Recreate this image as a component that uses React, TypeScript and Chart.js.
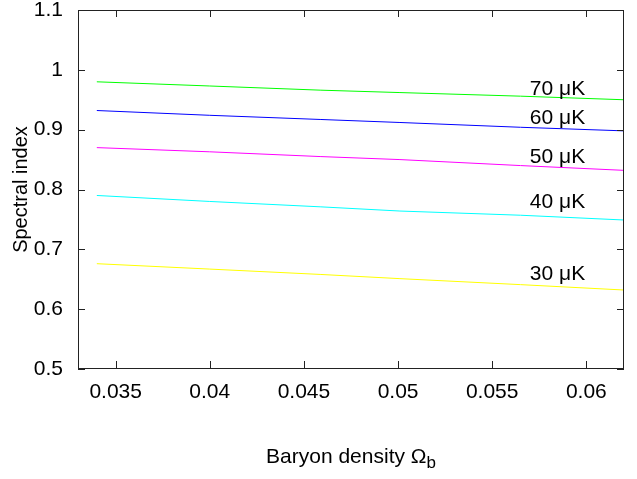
import React, { useEffect, useRef } from 'react';
import { Chart, registerables } from 'chart.js';

Chart.register(...registerables);

// Baryon density values (x) sampled along each curve
const omegaB = [0.034, 0.040, 0.0459, 0.0501, 0.0565, 0.062];
// Spectral index for each temperature amplitude
const n70 = [0.980, 0.973, 0.966, 0.962, 0.956, 0.950];
const n60 = [0.932, 0.924, 0.917, 0.912, 0.904, 0.898];
const n50 = [0.870, 0.863, 0.855, 0.850, 0.840, 0.832];
const n40 = [0.790, 0.780, 0.771, 0.764, 0.757, 0.749];
const n30 = [0.676, 0.667, 0.658, 0.651, 0.641, 0.632];

const seriesNames = ['70 μK', '60 μK', '50 μK', '40 μK', '30 μK'];
const seriesValues = [n70, n60, n50, n40, n30];
const seriesColors = ['#00ff00', '#0000ff', '#ff00ff', '#00ffff', '#ffff00'];

// in-plot label anchor positions (data coordinates)
const labelX = 0.057;
const labelY = [0.97, 0.92, 0.855, 0.78, 0.66];

const xTicks = [0.035, 0.04, 0.045, 0.05, 0.055, 0.06];
const xTickLabels = ['0.035', '0.04', '0.045', '0.05', '0.055', '0.06'];
const yTicks = [0.5, 0.6, 0.7, 0.8, 0.9, 1.0, 1.1];
const yTickLabels = ['0.5', '0.6', '0.7', '0.8', '0.9', '1', '1.1'];

const xTitle = 'Baryon density Ω';
const xTitleSub = 'b';
const yTitle = 'Spectral index';

const FONT = '"Liberation Sans", Arial, Helvetica, sans-serif';
const FS = 21;

const framePlugin = {
  id: 'gnuframe',
  afterDraw(chart: any) {
    const ctx: CanvasRenderingContext2D = chart.ctx;
    const { left, right, top, bottom } = chart.chartArea;
    const xs = chart.scales.x;
    const ys = chart.scales.y;
    ctx.save();
    ctx.fillStyle = '#222222';
    const L = Math.round(left);
    const R = Math.round(right) - 1;
    const T = Math.round(top);
    const B = Math.round(bottom) - 1;
    ctx.fillRect(L, T, R - L + 1, 1);
    ctx.fillRect(L, B, R - L + 1, 1);
    ctx.fillRect(L, T, 1, B - T + 1);
    ctx.fillRect(R, T, 1, B - T + 1);
    const tl = 7;
    xTicks.forEach((v) => {
      const px = Math.round(xs.getPixelForValue(v));
      ctx.fillRect(px, B - tl, 1, tl);
      ctx.fillRect(px, T, 1, tl);
    });
    yTicks.forEach((v) => {
      const py = Math.round(ys.getPixelForValue(v));
      ctx.fillRect(L, py, tl, 1);
      ctx.fillRect(R - tl + 1, py, tl, 1);
    });

    // curve labels
    ctx.fillStyle = '#000';
    ctx.font = `${FS}px ${FONT}`;
    ctx.textAlign = 'left';
    ctx.textBaseline = 'middle';
    seriesNames.forEach((name, i) => {
      ctx.fillText(name, xs.getPixelForValue(labelX), ys.getPixelForValue(labelY[i]) + 1);
    });

    // x-axis title with subscript
    ctx.textBaseline = 'alphabetic';
    ctx.font = `${FS}px ${FONT}`;
    const w1 = ctx.measureText(xTitle).width;
    ctx.font = `17px ${FONT}`;
    const w2 = ctx.measureText(xTitleSub).width;
    const cx = (left + right) / 2;
    const sx = cx - (w1 + w2) / 2;
    const base = bottom + 94;
    ctx.font = `${FS}px ${FONT}`;
    ctx.fillText(xTitle, sx, base);
    ctx.font = `17px ${FONT}`;
    ctx.fillText(xTitleSub, sx + w1, base + 5);
    ctx.restore();
  },
};

export default function App() {
  const ref = useRef<HTMLCanvasElement | null>(null);

  useEffect(() => {
    if (!ref.current) return;
    const chart = new Chart(ref.current, {
      type: 'line',
      data: {
        datasets: seriesNames.map((name, i) => ({
          label: name,
          data: omegaB.map((x, j) => ({ x, y: seriesValues[i][j] })),
          borderColor: seriesColors[i],
          backgroundColor: seriesColors[i],
          borderWidth: 1,
          pointRadius: 0,
          tension: 0,
          fill: false,
        })),
      },
      options: {
        animation: false,
        responsive: true,
        maintainAspectRatio: false,
        layout: { padding: { top: 10, right: 13, bottom: 0, left: 0 } },
        plugins: {
          legend: { display: false },
          tooltip: { enabled: false },
        },
        scales: {
          x: {
            type: 'linear',
            min: 0.033,
            max: 0.062,
            grid: { display: false, drawTicks: false },
            border: { display: false },
            afterBuildTicks: (s: any) => {
              s.ticks = xTicks.map((v) => ({ value: v }));
            },
            afterFit: (s: any) => {
              s.height = 110;
            },
            ticks: {
              color: '#000',
              padding: 13,
              maxRotation: 0,
              autoSkip: false,
              font: { family: FONT, size: FS, lineHeight: 1 },
              callback: (_v: any, i: number) => xTickLabels[i],
            },
          },
          y: {
            type: 'linear',
            min: 0.5,
            max: 1.1,
            grid: { display: false, drawTicks: false },
            border: { display: false },
            afterBuildTicks: (s: any) => {
              s.ticks = yTicks.map((v) => ({ value: v }));
            },
            afterFit: (s: any) => {
              s.width = 78;
              s.paddingTop = 0;
              s.paddingBottom = 0;
            },
            title: {
              display: true,
              text: yTitle,
              color: '#000',
              font: { family: FONT, size: 20 },
              padding: { top: 9, bottom: 0 },
            },
            ticks: {
              color: '#000',
              padding: 15,
              autoSkip: false,
              font: { family: FONT, size: FS, lineHeight: 1 },
              callback: (_v: any, i: number) => yTickLabels[i],
            },
          },
        },
      },
      plugins: [framePlugin],
    });
    return () => chart.destroy();
  }, []);

  return (
    <div style={{ position: 'fixed', left: 0, top: 0, width: 637, height: 479, background: '#fff' }}>
      <canvas ref={ref} />
    </div>
  );
}
